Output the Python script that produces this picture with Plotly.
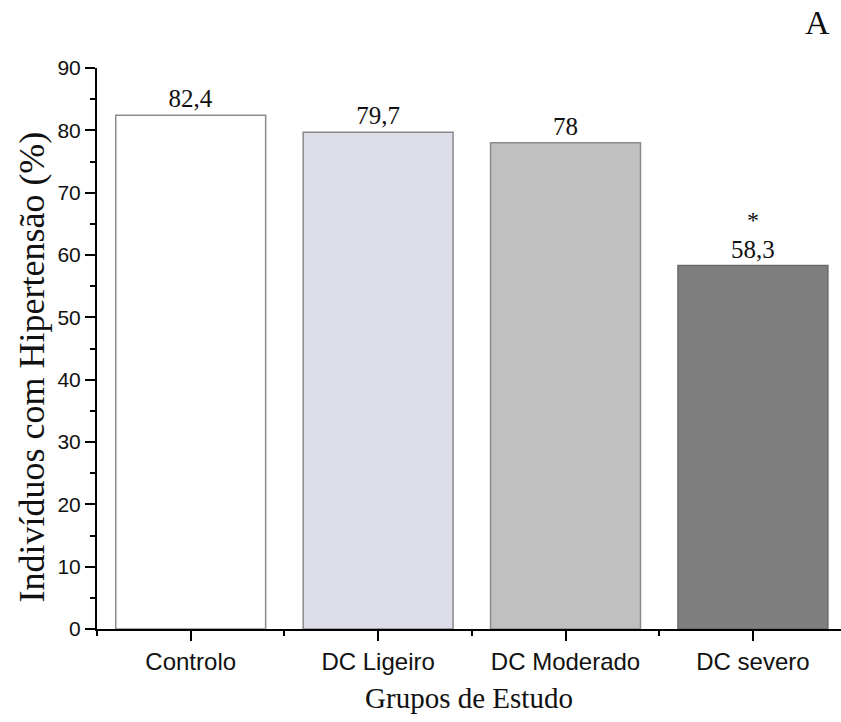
import plotly.graph_objects as go

categories = ["Controlo", "DC Ligeiro", "DC Moderado", "DC severo"]
values = [82.4, 79.7, 78.0, 58.3]
value_labels = ["82,4", "79,7", "78", "58,3"]
bar_colors = ["#ffffff", "#dcdde8", "#c0c0c0", "#7f7f7f"]
line_colors = ["#8a8a8a", "#8a8a8a", "#8a8a8a", "#6a6a6a"]
significance = ["", "", "", "*"]
y_ticks = [0, 10, 20, 30, 40, 50, 60, 70, 80, 90]

x_pos = list(range(len(categories)))

fig = go.Figure()
fig.add_trace(go.Bar(
    x=x_pos, y=values, width=0.8,
    marker=dict(color=bar_colors, line=dict(color=line_colors, width=1.5)),
    text=value_labels, textposition="outside", cliponaxis=False,
    textfont=dict(family="Liberation Serif", size=25, color="#111111"),
    showlegend=False,
))

for xp, v, s in zip(x_pos, values, significance):
    if s:
        fig.add_annotation(x=xp, y=v, text=s, showarrow=False, yshift=46,
                           font=dict(family="Liberation Serif", size=24, color="#111111"))

fig.add_annotation(xref="paper", yref="paper", x=0.988, y=1.045, text="A",
                   showarrow=False, xanchor="right", yanchor="bottom",
                   font=dict(family="Liberation Serif", size=34, color="#111111"))

# y-axis title placed as annotation (slightly below plot centre, as in the reference)
fig.add_annotation(xref="paper", yref="paper", x=-0.088, y=0.467,
                   text="Indivíduos com Hipertensão (%)", textangle=-90,
                   showarrow=False, xanchor="center", yanchor="middle",
                   font=dict(family="Liberation Serif", size=36, color="#111111"))

fig.update_layout(
    width=841, height=722,
    margin=dict(l=97, r=0, t=68, b=93),
    plot_bgcolor="white", paper_bgcolor="white",
    xaxis=dict(
        range=[-0.5, 3.47], tickvals=x_pos, ticktext=categories,
        showline=True, linecolor="black", linewidth=2,
        ticks="outside", ticklen=10, tickwidth=2, tickcolor="black",
        minor=dict(tick0=-0.5, dtick=1, ticks="outside", ticklen=5, tickwidth=2, tickcolor="black"),
        showgrid=False, zeroline=False,
        tickfont=dict(family="Liberation Sans", size=24, color="#111111"),
        title=dict(text="Grupos de Estudo", standoff=14,
                   font=dict(family="Liberation Serif", size=29, color="#111111")),
    ),
    yaxis=dict(
        range=[0, 90], tickvals=y_ticks,
        showline=True, linecolor="black", linewidth=2,
        ticks="outside", ticklen=10, tickwidth=2, tickcolor="black",
        minor=dict(dtick=5, ticks="outside", ticklen=5, tickwidth=2, tickcolor="black"),
        showgrid=False, zeroline=False,
        tickfont=dict(family="Liberation Sans", size=21, color="#111111"),
    ),
)

fig.write_html("out.html")
